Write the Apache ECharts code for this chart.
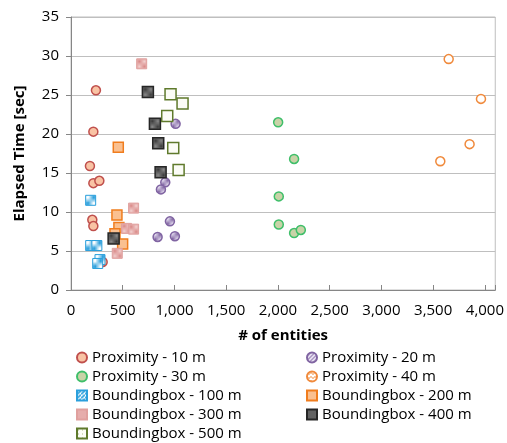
<!DOCTYPE html>
<html>
<head>
<meta charset="utf-8">
<script src="https://cdn.jsdelivr.net/npm/echarts@6/dist/echarts.min.js"></script>
<style>
  html, body { margin: 0; padding: 0; background: #fff; }
  #chart { width: 507px; height: 443px; }
</style>
</head>
<body>
<div id="chart"></div>
<script>
// data: [# of entities, elapsed time in sec]
const prox10 = [[241, 25.6], [216, 20.3], [183, 15.9], [216, 13.7], [274, 14.0], [206, 9.0], [216, 8.2], [306, 3.6]];
const prox20 = [[1011, 21.3], [911, 13.8], [869, 12.9], [956, 8.8], [837, 6.8], [1004, 6.9]];
const prox30 = [[2002, 21.5], [2156, 16.8], [2008, 12.0], [2008, 8.4], [2156, 7.3], [2221, 7.7]];
const prox40 = [[3650, 29.6], [3962, 24.5], [3852, 18.7], [3569, 16.5]];
const bb100 = [[190, 11.5], [190, 5.7], [250, 5.7], [280, 3.9], [258, 3.4]];
const bb200 = [[457, 18.3], [444, 9.6], [463, 8.0], [425, 7.2], [499, 5.9]];
const bb300 = [[683, 29.0], [605, 10.5], [537, 7.9], [605, 7.8], [447, 4.7]];
const bb400 = [[743, 25.4], [811, 21.3], [843, 18.8], [866, 15.1], [412, 6.6]];
const bb500 = [[962, 25.1], [1078, 23.9], [930, 22.3], [988, 18.2], [1040, 15.4]];

const xTicks = { min: 0, max: 4100, step: 500 };
const yTicks = { min: 0, max: 35, step: 5 };

// small canvas patterns for the marker fills
function pattern(size, draw) {
  const c = document.createElement('canvas');
  c.width = size; c.height = size;
  draw(c.getContext('2d'));
  return { image: c, repeat: 'repeat' };
}
const hatchBlue = pattern(4, g => {
  g.fillStyle = '#fff'; g.fillRect(0, 0, 4, 4);
  g.strokeStyle = '#2a9fdc'; g.lineWidth = 1.6;
  g.beginPath(); g.moveTo(-1, 5); g.lineTo(5, -1); g.stroke();
});
const hatchPurple = pattern(4, g => {
  g.fillStyle = '#e4ddef'; g.fillRect(0, 0, 4, 4);
  g.strokeStyle = '#8064a2'; g.lineWidth = 1;
  g.beginPath(); g.moveTo(-1, 5); g.lineTo(5, -1); g.stroke();
});
const checkPink = pattern(2, g => {
  g.fillStyle = '#f3d3d2'; g.fillRect(0, 0, 2, 2);
  g.fillStyle = '#d98886'; g.fillRect(0, 0, 1, 1); g.fillRect(1, 1, 1, 1);
});
const checkGray = pattern(2, g => {
  g.fillStyle = '#8a8a8a'; g.fillRect(0, 0, 2, 2);
  g.fillStyle = '#3a3a3a'; g.fillRect(0, 0, 1, 1); g.fillRect(1, 1, 1, 1);
});
const dotGreen = pattern(4, g => {
  g.fillStyle = '#fbfcf6'; g.fillRect(0, 0, 4, 4);
  g.fillStyle = '#aebf86'; g.fillRect(1, 1, 1, 1);
});
const zigOrange = pattern(4, g => {
  g.fillStyle = '#fff'; g.fillRect(0, 0, 4, 4);
  g.strokeStyle = '#f08a3c'; g.lineWidth = 1;
  g.beginPath(); g.moveTo(0, 1); g.lineTo(2, 3); g.lineTo(4, 1); g.stroke();
});

function ser(name, data, symbol, size, fill, border, bw) {
  return {
    name: name,
    type: 'scatter',
    data: data,
    symbol: symbol,
    symbolSize: size,
    itemStyle: { color: fill, borderColor: border, borderWidth: bw, opacity: 1 }
  };
}

const series = [
  ser('Proximity - 10 m', prox10, 'circle', 9, '#f9c3a4', '#c0504d', 1.5),
  ser('Proximity - 20 m', prox20, 'circle', 9, hatchPurple, '#8064a2', 1.5),
  ser('Proximity - 30 m', prox30, 'circle', 9, '#c9d3a8', '#3fbf6a', 1.5),
  ser('Proximity - 40 m', prox40, 'circle', 9, zigOrange, '#f08a3c', 1.5),
  ser('Boundingbox - 100 m', bb100, 'rect', 10, hatchBlue, '#2a9fdc', 1),
  ser('Boundingbox - 200 m', bb200, 'rect', 10, '#fac090', '#f07d1e', 1.5),
  ser('Boundingbox - 300 m', bb300, 'rect', 10, checkPink, '#e0a09e', 1),
  ser('Boundingbox - 400 m', bb400, 'rect', 11, checkGray, '#262626', 1.5),
  ser('Boundingbox - 500 m', bb500, 'rect', 11, dotGreen, '#5f7a2c', 1.5)
];

const font = 'Open Sans';
const legendText = { fontFamily: font, fontSize: 15, color: '#000', lineHeight: 15 };
const legendBase = {
  orient: 'vertical', top: 350, height: 100, padding: 0,
  itemWidth: 10, itemHeight: 10, itemGap: 4,
  textStyle: legendText
};

const chart = echarts.init(document.getElementById('chart'));
chart.setOption({
  animation: false,
  textStyle: { fontFamily: font },
  grid: {
    left: 71, right: 11, top: 17, bottom: 153,
    show: true, borderColor: '#bfbfbf', borderWidth: 1
  },
  legend: [
    Object.assign({}, legendBase, {
      left: 76,
      data: ['Proximity - 10 m', 'Proximity - 30 m', 'Boundingbox - 100 m', 'Boundingbox - 300 m', 'Boundingbox - 500 m']
    }),
    Object.assign({}, legendBase, {
      left: 306,
      data: ['Proximity - 20 m', 'Proximity - 40 m', 'Boundingbox - 200 m', 'Boundingbox - 400 m']
    })
  ],
  xAxis: {
    type: 'value',
    min: xTicks.min, max: xTicks.max, interval: xTicks.step,
    name: '# of entities',
    nameLocation: 'middle', nameGap: 38,
    nameTextStyle: { fontFamily: font, fontSize: 15, fontWeight: 'bold', color: '#000' },
    axisLine: { show: true, lineStyle: { color: '#868686' } },
    axisTick: { show: true, inside: true, length: 5, lineStyle: { color: '#868686' } },
    splitLine: { show: false },
    axisLabel: {
      fontFamily: font, fontSize: 15, color: '#000', margin: 13,
      formatter: v => v > 4000 ? '' : v.toLocaleString('en-US')
    }
  },
  yAxis: {
    type: 'value',
    min: yTicks.min, max: yTicks.max, interval: yTicks.step,
    name: 'Elapsed Time [sec]',
    nameLocation: 'middle', nameGap: 44,
    nameTextStyle: { fontFamily: font, fontSize: 15, fontWeight: 'bold', color: '#000' },
    axisLine: { show: true, lineStyle: { color: '#868686' } },
    axisTick: { show: true, length: 5, lineStyle: { color: '#868686' } },
    splitLine: { show: true, lineStyle: { color: '#bfbfbf' } },
    axisLabel: { fontFamily: font, fontSize: 15, color: '#000', margin: 12 }
  },
  series: series
});
</script>
</body>
</html>
